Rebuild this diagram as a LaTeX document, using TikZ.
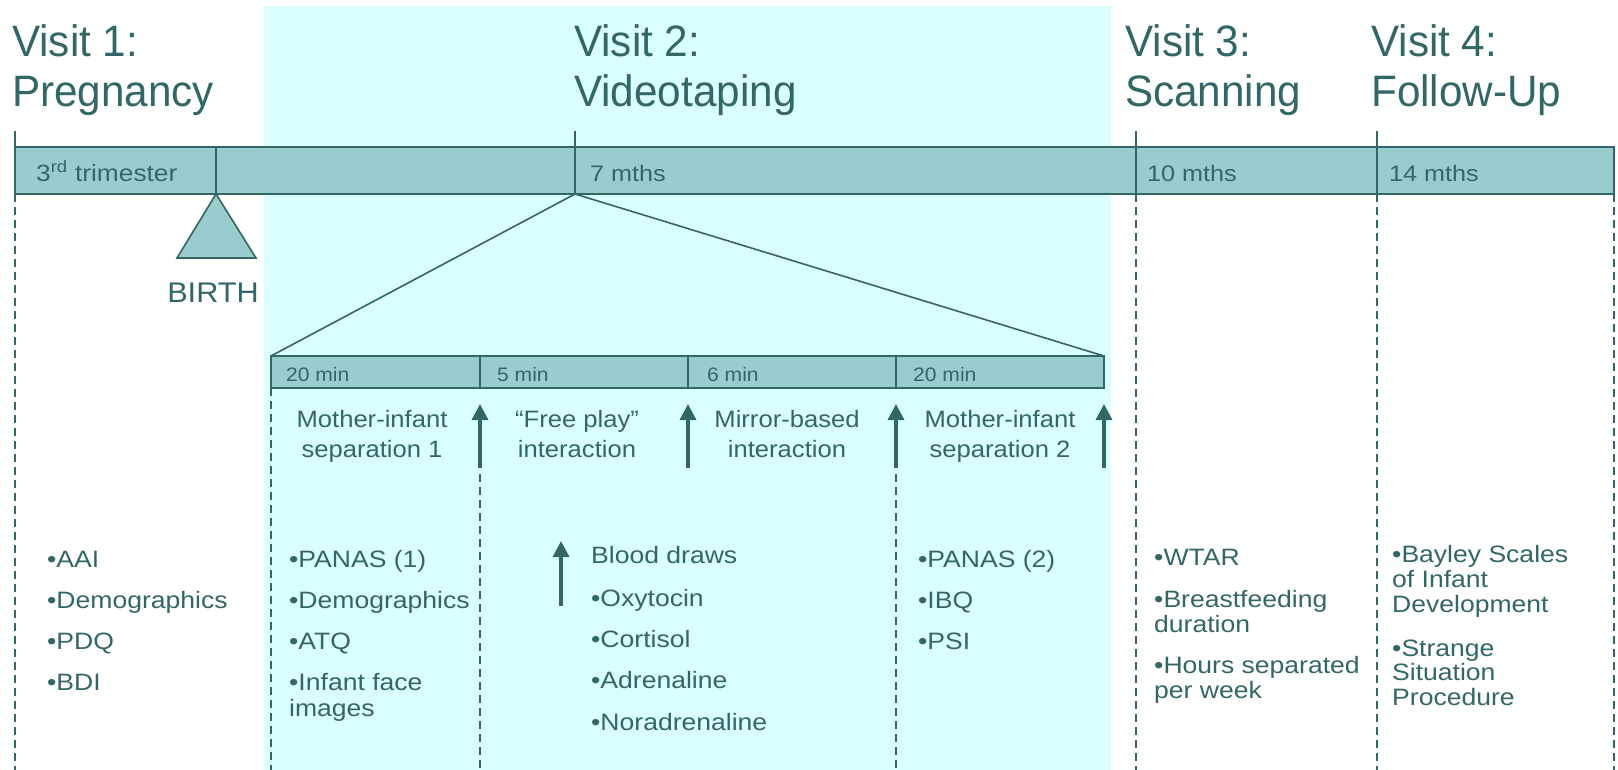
\documentclass[tikz,border=0pt]{standalone}
\usepackage{fontspec}
\setmainfont{Liberation Sans}[FakeStretch=1.08]
\newfontfamily\ttlfam{Liberation Sans}[FakeStretch=0.96]
\newfontfamily\widefam{Liberation Sans}[FakeStretch=1.12]
\usetikzlibrary{arrows.meta}
\definecolor{tealx}{HTML}{336666}
\definecolor{barfill}{HTML}{99CCCC}
\definecolor{bgcyan}{HTML}{D9FFFF}
\newcommand{\ttlfont}{\ttlfam\fontsize{44}{50}\selectfont}
\newcommand{\lstfont}{\widefam\fontsize{23.7}{26}\selectfont}
\newcommand{\midfont}{\fontsize{23.7}{30}\selectfont}
\newcommand{\barfont}{\widefam\fontsize{22.5}{24}\selectfont}
\newcommand{\trifont}{\widefam\fontsize{23.5}{24}\selectfont}
\newcommand{\subfont}{\fontsize{19.5}{20}\selectfont}
\newcommand{\birthfont}{\fontsize{28.4}{30}\selectfont}
\tikzset{
  lbl/.style={inner sep=0pt, anchor=base west, text=tealx},
  clbl/.style={inner sep=0pt, anchor=base, text=tealx},
  barline/.style={draw=tealx, line width=2pt},
  thinline/.style={draw=tealx, line width=1.6pt},
  dashline/.style={draw=tealx, line width=1.3pt, dash pattern=on 8pt off 5pt},
  uparrow/.style={draw=tealx, line width=3.2pt, -{Triangle[length=16pt,width=16pt]}},
}
\begin{document}
\begin{tikzpicture}[x=1pt,y=-1pt]
\useasboundingbox (0,0) rectangle (1618,770);
% background panel for visit 2
\fill[bgcyan] (264,6) rectangle (1111,770);

% titles
\node[lbl,font=\ttlfont] (v1a) at (12,56.5) {Visit 1:};
\node[lbl,font=\ttlfont] (v1b) at (12,106.5) {Pregnancy};
\node[lbl,font=\ttlfont] (v2a) at (574,56.5) {Visit 2:};
\node[lbl,font=\ttlfont] (v2b) at (574,106.5) {Videotaping};
\node[lbl,font=\ttlfont] (v3a) at (1125,56.5) {Visit 3:};
\node[lbl,font=\ttlfont] (v3b) at (1125,106.5) {Scanning};
\node[lbl,font=\ttlfont] (v4a) at (1371,56.5) {Visit 4:};
\node[lbl,font=\ttlfont] (v4b) at (1371,106.5) {Follow-Up};

% key coordinates
\coordinate (b0t) at (15,131);
\coordinate (b0) at (15,147);
\coordinate (b0b) at (15,194);
\coordinate (bEnd) at (1614,194);
\coordinate (bEndb) at (1614,770);
\coordinate (b0d) at (15,770);
\coordinate (birthT) at (216,147);
\coordinate (birthB) at (216,194);
\coordinate (m7t) at (575,131);
\coordinate (m7b) at (575,194);
\coordinate (m10t) at (1136,131);
\coordinate (m10b) at (1136,194);
\coordinate (m10d) at (1136,770);
\coordinate (m14t) at (1377,131);
\coordinate (m14b) at (1377,194);
\coordinate (m14d) at (1377,770);

% main bar
\draw[barline, fill=barfill] (b0) rectangle (bEnd);
\draw[barline] (b0t) -- (b0);
\draw[barline] (birthT) -- (birthB);
\draw[barline] (m7t) -- (m7b);
\draw[barline] (m10t) -- (m10b);
\draw[barline] (m14t) -- (m14b);

\node[lbl,font=\trifont] (tri) at (36,181.5) {3\textsuperscript{rd} trimester};
\node[lbl,font=\barfont] (m7) at (590,181.5) {7 mths};
\node[lbl,font=\barfont] (m10) at (1147,181.5) {10 mths};
\node[lbl,font=\barfont] (m14) at (1389,181.5) {14 mths};

% birth triangle
\coordinate (trL) at (177,258);
\coordinate (trR) at (256,258);
\draw[thinline, fill=barfill] (birthB) -- (trR) -- (trL) -- cycle;
\node[clbl,font=\birthfont] (birth) at (213,302) {BIRTH};

% dashed verticals below the main bar
\draw[dashline] (b0b) -- (b0d);
\draw[dashline] (m10b) -- (m10d);
\draw[dashline] (m14b) -- (m14d);
\draw[dashline] (bEnd) -- (bEndb);

% sub bar
\coordinate (s0) at (271,356);
\coordinate (s0b) at (271,388);
\coordinate (s4) at (1104,356);
\coordinate (s4b) at (1104,388);
\coordinate (s1t) at (480,356);
\coordinate (s1b) at (480,388);
\coordinate (s2t) at (688,356);
\coordinate (s2b) at (688,388);
\coordinate (s3t) at (896,356);
\coordinate (s3b) at (896,388);
\draw[thinline] (m7b) -- (s0);
\draw[thinline] (m7b) -- (s4);
\draw[thinline, fill=barfill] (s0) rectangle (s4b);
\draw[thinline] (s1t) -- (s1b);
\draw[thinline] (s2t) -- (s2b);
\draw[thinline] (s3t) -- (s3b);
\node[lbl,font=\subfont] (d1) at (286,381.5) {20 min};
\node[lbl,font=\subfont] (d2) at (497,381.5) {5 min};
\node[lbl,font=\subfont] (d3) at (707,381.5) {6 min};
\node[lbl,font=\subfont] (d4) at (913,381.5) {20 min};

% arrows
\coordinate (a1b) at (480,468); \coordinate (a1t) at (480,404);
\coordinate (a2b) at (688,468); \coordinate (a2t) at (688,404);
\coordinate (a3b) at (896,468); \coordinate (a3t) at (896,404);
\coordinate (a4b) at (1104,468); \coordinate (a4t) at (1104,404);
\draw[uparrow] (a1b) -- (a1t);
\draw[uparrow] (a2b) -- (a2t);
\draw[uparrow] (a3b) -- (a3t);
\draw[uparrow] (a4b) -- (a4t);

% dashed verticals below sub bar
\coordinate (s0d) at (271,770);
\coordinate (s1s) at (480,474); \coordinate (s1d) at (480,770);
\coordinate (s3s) at (896,474); \coordinate (s3d) at (896,770);
\draw[dashline] (s0b) -- (s0d);
\draw[dashline] (s1s) -- (s1d);
\draw[dashline] (s3s) -- (s3d);

% phase labels
\node[clbl,font=\midfont] (p1a) at (372,427) {Mother-infant};
\node[clbl,font=\midfont] (p1b) at (372,457) {separation 1};
\node[clbl,font=\midfont] (p2a) at (577,427) {“Free play”};
\node[clbl,font=\midfont] (p2b) at (577,457) {interaction};
\node[clbl,font=\midfont] (p3a) at (787,427) {Mirror-based};
\node[clbl,font=\midfont] (p3b) at (787,457) {interaction};
\node[clbl,font=\midfont] (p4a) at (1000,427) {Mother-infant};
\node[clbl,font=\midfont] (p4b) at (1000,457) {separation 2};

% Visit 1 list
\node[lbl,font=\lstfont] (l1a) at (47,567) {•AAI};
\node[lbl,font=\lstfont] (l1b) at (47,608) {•Demographics};
\node[lbl,font=\lstfont] (l1c) at (47,649) {•PDQ};
\node[lbl,font=\lstfont] (l1d) at (47,690) {•BDI};

% Visit 2 list (left)
\node[lbl,font=\lstfont] (l2a) at (289,567) {•PANAS (1)};
\node[lbl,font=\lstfont] (l2b) at (289,608) {•Demographics};
\node[lbl,font=\lstfont] (l2c) at (289,649) {•ATQ};
\node[lbl,font=\lstfont] (l2d) at (289,690) {•Infant face};
\node[lbl,font=\lstfont] (l2e) at (289,716) {images};

% Blood draws
\coordinate (bdb) at (561,606);
\coordinate (bdt) at (561,541);
\draw[uparrow] (bdb) -- (bdt);
\node[lbl,font=\lstfont] (bd0) at (591,563) {Blood draws};
\node[lbl,font=\lstfont] (bd1) at (591,606) {•Oxytocin};
\node[lbl,font=\lstfont] (bd2) at (591,647) {•Cortisol};
\node[lbl,font=\lstfont] (bd3) at (591,688) {•Adrenaline};
\node[lbl,font=\lstfont] (bd4) at (591,730) {•Noradrenaline};

% Visit 2 list (right)
\node[lbl,font=\lstfont] (l3a) at (918,567) {•PANAS (2)};
\node[lbl,font=\lstfont] (l3b) at (918,608) {•IBQ};
\node[lbl,font=\lstfont] (l3c) at (918,649) {•PSI};

% Visit 3 list
\node[lbl,font=\lstfont] (l4a) at (1154,565) {•WTAR};
\node[lbl,font=\lstfont] (l4b) at (1154,607) {•Breastfeeding};
\node[lbl,font=\lstfont] (l4c) at (1154,632) {duration};
\node[lbl,font=\lstfont] (l4d) at (1154,673) {•Hours separated};
\node[lbl,font=\lstfont] (l4e) at (1154,698) {per week};

% Visit 4 list
\node[lbl,font=\lstfont] (l5a) at (1392,562) {•Bayley Scales};
\node[lbl,font=\lstfont] (l5b) at (1392,587) {of Infant};
\node[lbl,font=\lstfont] (l5c) at (1392,612) {Development};
\node[lbl,font=\lstfont] (l5d) at (1392,656) {•Strange};
\node[lbl,font=\lstfont] (l5e) at (1392,680) {Situation};
\node[lbl,font=\lstfont] (l5f) at (1392,705) {Procedure};
\end{tikzpicture}
\end{document}
